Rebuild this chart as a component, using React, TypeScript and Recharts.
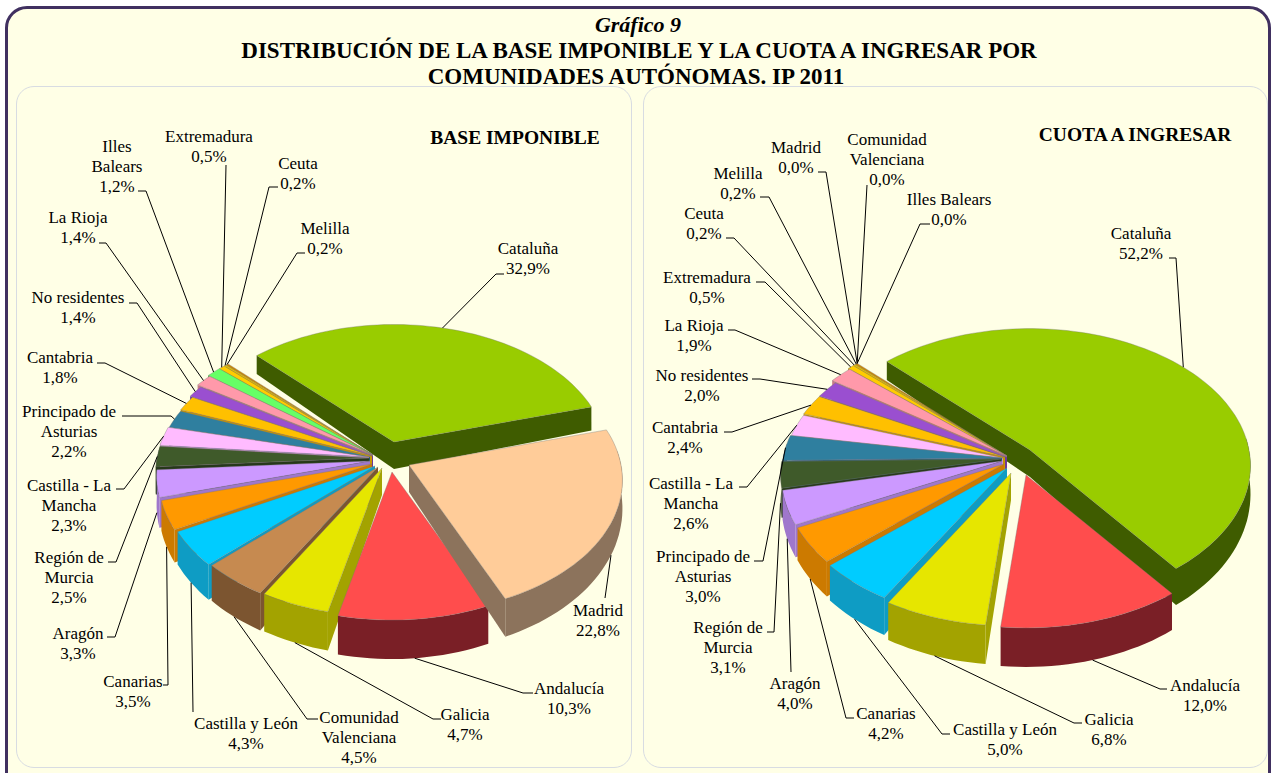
import { PieChart, Pie } from "recharts";

const SERIF = "'Liberation Serif', 'Times New Roman', serif";
const CREAM = "#FFFFE6";

// first slice is the big one, the rest run clockwise as in the picture
const baseNames = ["Cataluña", "Madrid", "Andalucía", "Galicia", "Comunidad Valenciana", "Castilla y León", "Canarias", "Aragón", "Región de Murcia", "Castilla - La Mancha", "Principado de Asturias", "Cantabria", "No residentes", "La Rioja", "Illes Balears", "Extremadura", "Ceuta", "Melilla"];
const baseValues = [32.9, 22.8, 10.3, 4.7, 4.5, 4.3, 3.5, 3.3, 2.5, 2.3, 2.2, 1.8, 1.4, 1.4, 1.2, 0.5, 0.2, 0.2];

const cuotaNames = ["Cataluña", "Andalucía", "Galicia", "Castilla y León", "Canarias", "Aragón", "Región de Murcia", "Principado de Asturias", "Castilla - La Mancha", "Cantabria", "No residentes", "La Rioja", "Extremadura", "Ceuta", "Melilla", "Madrid", "Comunidad Valenciana", "Illes Balears"];
const cuotaValues = [52.2, 12.0, 6.8, 5.0, 4.2, 4.0, 3.1, 3.0, 2.6, 2.4, 2.0, 1.9, 0.5, 0.2, 0.2, 0.0, 0.0, 0.0];

// [top colour, wall colour]
const colors: Record<string, [string, string]> = {
  "Cataluña": ["#99CC00", "#3F5C00"],
  "Madrid": ["#FFCC99", "#8C735C"],
  "Andalucía": ["#FF4D4D", "#7A1F26"],
  "Galicia": ["#E6E600", "#A3A300"],
  "Comunidad Valenciana": ["#C68A50", "#7C5530"],
  "Castilla y León": ["#00CCFF", "#0E9CC4"],
  "Canarias": ["#FF9900", "#CC7A00"],
  "Aragón": ["#CC99FF", "#9F77CC"],
  "Región de Murcia": ["#3F5A2A", "#26381A"],
  "Castilla - La Mancha": ["#FFBBFF", "#C890C8"],
  "Principado de Asturias": ["#2F7F9F", "#1E5A70"],
  "Cantabria": ["#FFC000", "#C89600"],
  "No residentes": ["#9A4FD0", "#6E3898"],
  "La Rioja": ["#FF99AA", "#C87888"],
  "Illes Balears": ["#66FF66", "#40B040"],
  "Extremadura": ["#FFCC00", "#B89000"],
  "Ceuta": ["#E6C000", "#A08000"],
  "Melilla": ["#CC8800", "#906000"],
};

type Note = { lines: string[]; x: number; y: number; path: number[][] };

// label text and leader elbows, page coordinates. y is the centre of the first line
const baseNotes: Record<string, Note> = {
  "Cataluña": { lines: ["Cataluña"], x: 528, y: 248, path: [[504, 274], [496, 274]] },
  "Madrid": { lines: ["Madrid"], x: 598, y: 610, path: [[605, 598]] },
  "Andalucía": { lines: ["Andalucía"], x: 569, y: 688, path: [[533, 693], [523, 693]] },
  "Galicia": { lines: ["Galicia"], x: 465, y: 714, path: [[441, 719], [433, 719]] },
  "Comunidad Valenciana": { lines: ["Comunidad", "Valenciana"], x: 359, y: 717, path: [[318, 719], [307, 719]] },
  "Castilla y León": { lines: ["Castilla y León"], x: 246, y: 723, path: [[193, 712]] },
  "Canarias": { lines: ["Canarias"], x: 133, y: 681, path: [[163, 685], [168, 685]] },
  "Aragón": { lines: ["Aragón"], x: 78, y: 633, path: [[107, 637], [115, 637]] },
  "Región de Murcia": { lines: ["Región de", "Murcia"], x: 69, y: 557, path: [[108, 562], [116, 562]] },
  "Castilla - La Mancha": { lines: ["Castilla - La", "Mancha"], x: 69, y: 485, path: [[116, 489], [124, 489]] },
  "Principado de Asturias": { lines: ["Principado de", "Asturias"], x: 69, y: 411, path: [[122, 416], [171, 416]] },
  "Cantabria": { lines: ["Cantabria"], x: 60, y: 357, path: [[97, 363], [105, 363]] },
  "No residentes": { lines: ["No residentes"], x: 78, y: 297, path: [[129, 303], [137, 303]] },
  "La Rioja": { lines: ["La Rioja"], x: 78, y: 217, path: [[99, 243], [106, 243]] },
  "Illes Balears": { lines: ["Illes", "Balears"], x: 117, y: 146, path: [[138, 191], [146, 191]] },
  "Extremadura": { lines: ["Extremadura"], x: 209, y: 136, path: [[226, 165]] },
  "Ceuta": { lines: ["Ceuta"], x: 298, y: 163, path: [[278, 187], [269, 187]] },
  "Melilla": { lines: ["Melilla"], x: 325, y: 228, path: [[305, 253], [297, 253]] },
};

const cuotaNotes: Record<string, Note> = {
  "Cataluña": { lines: ["Cataluña"], x: 1141, y: 233, path: [[1169, 258], [1176, 258]] },
  "Andalucía": { lines: ["Andalucía"], x: 1205, y: 685, path: [[1167, 689], [1160, 689]] },
  "Galicia": { lines: ["Galicia"], x: 1109, y: 719, path: [[1082, 723], [1074, 723]] },
  "Castilla y León": { lines: ["Castilla y León"], x: 1005, y: 729, path: [[950, 734], [942, 734]] },
  "Canarias": { lines: ["Canarias"], x: 886, y: 713, path: [[854, 718], [846, 718]] },
  "Aragón": { lines: ["Aragón"], x: 795, y: 683, path: [[791, 672]] },
  "Región de Murcia": { lines: ["Región de", "Murcia"], x: 728, y: 627, path: [[767, 632], [774, 632]] },
  "Principado de Asturias": { lines: ["Principado de", "Asturias"], x: 703, y: 556, path: [[754, 561], [763, 561]] },
  "Castilla - La Mancha": { lines: ["Castilla - La", "Mancha"], x: 691, y: 483, path: [[739, 487], [747, 487]] },
  "Cantabria": { lines: ["Cantabria"], x: 685, y: 427, path: [[724, 432], [732, 432]] },
  "No residentes": { lines: ["No residentes"], x: 702, y: 375, path: [[752, 379], [760, 379]] },
  "La Rioja": { lines: ["La Rioja"], x: 694, y: 325, path: [[728, 330], [735, 330]] },
  "Extremadura": { lines: ["Extremadura"], x: 707, y: 277, path: [[756, 282], [765, 282]] },
  "Ceuta": { lines: ["Ceuta"], x: 704, y: 213, path: [[726, 238], [734, 238]] },
  "Melilla": { lines: ["Melilla"], x: 738, y: 173, path: [[760, 197], [769, 197]] },
  "Madrid": { lines: ["Madrid"], x: 796, y: 147, path: [[818, 172], [826, 172]] },
  "Comunidad Valenciana": { lines: ["Comunidad", "Valenciana"], x: 887, y: 139, path: [[867, 185]] },
  "Illes Balears": { lines: ["Illes Balears"], x: 949, y: 199, path: [[930, 224], [920, 224]] },
};

// slice displacement on the page and radius stretch: [dx, dy, k]
const baseExplode: Record<string, number[]> = {
  "Cataluña": [25, -15, 1], "Madrid": [40, 8, 1], "Andalucía": [23, 15, 1], "Galicia": [13, 11, 1],
  "Comunidad Valenciana": [9, 10, 1], "Castilla y León": [6, 9, 1], "Canarias": [3, 7, 1], "Aragón": [1, 4, 1],
  "Región de Murcia": [0, 1, 1], "Castilla - La Mancha": [0, 0, 1], "Principado de Asturias": [1, 0, 1],
  "Cantabria": [3, -1, 1.01], "No residentes": [4, -1, 1.03], "La Rioja": [4, -2, 1.05], "Illes Balears": [4, -2, 1.06],
  "Extremadura": [4, -2, 1.06], "Ceuta": [4, -2, 1.06], "Melilla": [4, -2, 1.06],
};

const cuotaExplode: Record<string, number[]> = {
  "Cataluña": [29, -8, 1], "Andalucía": [25, 17, 1], "Galicia": [10, 15, 1], "Castilla y León": [6, 10, 1],
  "Canarias": [3, 6, 1], "Aragón": [1, 3, 1], "Región de Murcia": [0, 1, 1], "Principado de Asturias": [1, 0, 1],
  "Castilla - La Mancha": [2, 0, 1], "Cantabria": [4, -1, 1.01], "No residentes": [6, -1, 1.02], "La Rioja": [6, -2, 1.04],
  "Extremadura": [6, -2, 1.05], "Ceuta": [6, -2, 1.05], "Melilla": [6, -2, 1.05], "Madrid": [6, -2, 1.05],
  "Comunidad Valenciana": [6, -2, 1.05], "Illes Balears": [6, -2, 1.05],
};

const TILT = 0.618;
const PERSP = 0.115;

const fmt = (v: number) => v.toFixed(1).replace(".", ",") + "%";

// paint order: big slice first, then counter-clockwise so the front slices land on top
function buildRows(names: string[], values: number[]) {
  const rows = names.map((name, i) => ({ name, value: values[i] }));
  return [rows[0], ...rows.slice(1).reverse()];
}

function startFor(values: number[], firstAt: number) {
  const total = values.reduce((a, b) => a + b, 0);
  return 90 - (firstAt + (360 * values[0]) / total);
}

function point(cx: number, cy: number, r: number, deg: number, k = 1) {
  const a = (deg * Math.PI) / 180;
  const px = Math.cos(a) * k;
  const py = -Math.sin(a) * k;
  const w = 1 - PERSP * py;
  return { x: cx + (r * px) / w, y: cy + (r * TILT * py) / w, py };
}

const depth = (py: number) => 27 + 12 * py;
const str = (pts: { x: number; y: number }[]) => pts.map((p) => `${p.x.toFixed(1)},${p.y.toFixed(1)}`).join(" ");

function makeShape(explode: Record<string, number[]>) {
  return (props: any) => {
    const { cx, cy, outerRadius, startAngle, endAngle, name, payload } = props;
    const key = name ?? payload?.name;
    if (Math.abs(endAngle - startAngle) < 0.01) return <g />;
    const [dx, dy, k] = explode[key];
    const [top, wall] = colors[key];
    const lo = Math.min(startAngle, endAngle);
    const hi = Math.max(startAngle, endAngle);
    const arc: { x: number; y: number; py: number }[] = [];
    const n = Math.max(2, Math.ceil((hi - lo) / 2));
    for (let i = 0; i <= n; i++) arc.push(point(cx, cy, outerRadius, lo + ((hi - lo) * i) / n, k));
    const apex = { x: cx, y: cy };
    const down = (p: { x: number; y: number; py: number }) => ({ x: p.x, y: p.y + depth(p.py) });
    const apexDown = { x: cx, y: cy + depth(0) };
    const front = arc.filter((p) => p.py > -0.12);
    // lo is the clockwise end of the slice, hi the counter-clockwise one
    const cwSide = Math.sin(((90 - lo) * Math.PI) / 180) > 0;
    const ccwSide = Math.sin(((90 - hi) * Math.PI) / 180) < 0;
    return (
      <g transform={`translate(${dx},${dy})`} style={{ filter: "blur(0.5px)" }}>
        {cwSide && <polygon points={str([apex, arc[0], down(arc[0]), apexDown])} fill={wall} />}
        {ccwSide && <polygon points={str([apex, arc[n], down(arc[n]), apexDown])} fill={wall} />}
        {front.length > 1 && <polygon points={str([...front, ...front.slice().reverse().map(down)])} fill={wall} />}
        <polygon points={str([apex, ...arc])} fill={top} stroke="#777" strokeWidth={0.8} strokeOpacity={0.45} />
      </g>
    );
  };
}

function makeLabel(rows: { name: string; value: number }[], notes: Record<string, Note>, explode: Record<string, number[]>) {
  return (props: any) => {
    const { cx, cy, outerRadius, midAngle, index } = props;
    const row = rows[index];
    const note = notes[row.name];
    const [dx, dy, k] = explode[row.name];
    const edge = point(cx, cy, outerRadius, midAngle, k);
    const end = { x: edge.x + dx, y: edge.y + dy + (edge.py > 0.02 ? depth(edge.py) : 0) };
    const pts = [...note.path.map(([x, y]) => ({ x, y })), end];
    const lines = [...note.lines, fmt(row.value)];
    return (
      <g key={row.name}>
        <polyline points={str(pts)} fill="none" stroke="#000" strokeWidth={1} />
        <text x={note.x} y={note.y + 5.5} textAnchor="middle" fontFamily={SERIF} fontSize={17} fill="#000">
          {lines.map((t, i) => (
            <tspan key={i} x={note.x} dy={i === 0 ? 0 : 20}>
              {t}
            </tspan>
          ))}
        </text>
      </g>
    );
  };
}

const baseRows = buildRows(baseNames, baseValues);
const cuotaRows = buildRows(cuotaNames, cuotaValues);

const panel = (left: number, width: number): React.CSSProperties => ({
  position: "absolute",
  left,
  top: 86,
  width,
  height: 682,
  boxSizing: "border-box",
  border: "1px solid #D8DCE2",
  borderRadius: 18,
  background: CREAM,
});

const heading = (top: number, left: number, size: number, italic = false): React.CSSProperties => ({
  position: "absolute",
  top,
  left,
  transform: "translateX(-50%)",
  whiteSpace: "nowrap",
  fontFamily: SERIF,
  fontWeight: "bold",
  fontStyle: italic ? "italic" : "normal",
  fontSize: size,
  lineHeight: "20px",
  color: "#000",
});

export default function App() {
  const baseStart = startFor(baseValues, -44.5);
  const cuotaStart = startFor(cuotaValues, -45);
  return (
    <div style={{ position: "absolute", left: 0, top: 0, width: 1273, height: 773, overflow: "hidden", background: "#fff" }}>
      <div style={{ position: "absolute", left: 5, top: 6, width: 1266, height: 790, boxSizing: "border-box", border: "3px solid #403060", borderRadius: 22, background: CREAM }} />
      <div style={heading(15, 638, 22, true)}>Gráfico 9</div>
      <div style={heading(41, 639, 23)}>DISTRIBUCIÓN DE LA BASE IMPONIBLE Y LA CUOTA A INGRESAR POR</div>
      <div style={heading(67, 636, 23)}>COMUNIDADES AUTÓNOMAS. IP 2011</div>
      <div style={panel(16, 616)} />
      <div style={panel(643, 625)} />
      <div style={heading(128, 515, 19.5)}>BASE IMPONIBLE</div>
      <div style={heading(125, 1135, 19.5)}>CUOTA A INGRESAR</div>
      <div style={{ position: "absolute", left: 0, top: 0 }}>
        <PieChart width={1273} height={773} margin={{ top: 0, right: 0, bottom: 0, left: 0 }}>
          <Pie
            data={baseRows}
            dataKey="value"
            nameKey="name"
            cx={369}
            cy={457}
            innerRadius={0}
            outerRadius={212}
            startAngle={baseStart}
            endAngle={baseStart + 360}
            paddingAngle={0}
            stroke="none"
            isAnimationActive={false}
            shape={makeShape(baseExplode)}
            label={makeLabel(baseRows, baseNotes, baseExplode)}
            labelLine={false}
          />
          <Pie
            data={cuotaRows}
            dataKey="value"
            nameKey="name"
            cx={1001}
            cy={458}
            innerRadius={0}
            outerRadius={219}
            startAngle={cuotaStart}
            endAngle={cuotaStart + 360}
            paddingAngle={0}
            stroke="none"
            isAnimationActive={false}
            shape={makeShape(cuotaExplode)}
            label={makeLabel(cuotaRows, cuotaNotes, cuotaExplode)}
            labelLine={false}
          />
        </PieChart>
      </div>
    </div>
  );
}
